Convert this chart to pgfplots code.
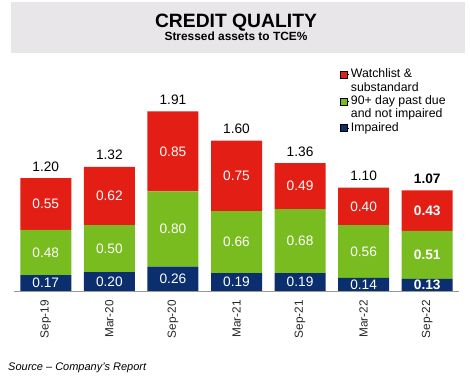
\documentclass[border=0pt]{standalone}
\usepackage{pgfplots}
\pgfplotsset{compat=1.18}
\usepackage{fontspec}
\setmainfont{Liberation Sans}
\definecolor{cred}{HTML}{E31E14}
\definecolor{cgreen}{HTML}{78BC20}
\definecolor{cnavy}{HTML}{0B2F6E}
\definecolor{banner}{HTML}{E8E6E9}
\begin{document}
\begin{tikzpicture}[x=1pt,y=1pt]
\path[use as bounding box] (0,0) rectangle (470,379);
\fill[banner] (11,326) rectangle (465,377);
\node[anchor=base, font=\bfseries\fontsize{19.3}{22}\selectfont, inner sep=0pt] at (236,351) {CREDIT QUALITY};
\node[anchor=base, font=\bfseries\fontsize{11.9}{14}\selectfont, inner sep=0pt] at (236,338) {Stressed assets to TCE\%};
\node[anchor=base west, font=\itshape\fontsize{11}{13}\selectfont, inner sep=0pt] at (8,8) {Source – Company’s Report};

\begin{axis}[at={(14pt,88pt)}, anchor=south west, scale only axis,
  width=445pt, height=225.6pt,
  xmin=-0.5, xmax=6.5, ymin=0, ymax=2.4,
  ybar stacked, bar width=51pt,
  axis x line*=bottom, axis y line=none,
  x axis line style={draw=black!40, line width=0.8pt},
  xtick={0,...,6},
  xticklabels={Sep-19,Mar-20,Sep-20,Mar-21,Sep-21,Mar-22,Sep-22},
  major tick length=0pt,
  xticklabel style={yshift=-9pt, rotate=90, anchor=east, inner sep=0pt,
    font=\fontsize{11.8}{13}\selectfont, text=black!85},
  clip=false]
\addplot[fill=cnavy, draw=none] coordinates {(0,0.17) (1,0.20) (2,0.26) (3,0.19) (4,0.19) (5,0.14) (6,0.13)};
\addplot[fill=cgreen, draw=none] coordinates {(0,0.48) (1,0.50) (2,0.80) (3,0.66) (4,0.68) (5,0.56) (6,0.51)};
\addplot[fill=cred, draw=none] coordinates {(0,0.55) (1,0.62) (2,0.85) (3,0.75) (4,0.49) (5,0.40) (6,0.43)};
\end{axis}

\begin{axis}[at={(14pt,88pt)}, anchor=south west, scale only axis,
  width=445pt, height=225.6pt,
  xmin=-0.5, xmax=6.5, ymin=0, ymax=2.4,
  hide axis, clip=false,
  legend style={at={(0.7326,0.9885)}, anchor=north west, draw=none, fill=none,
    inner sep=0pt, outer sep=0pt, font=\fontsize{12.3}{14}\selectfont,
    nodes={inner sep=0.5pt, text height=9.5pt, text depth=2.8pt},
    column sep=1.5pt, row sep=0pt},
  legend cell align=left,
  legend image code/.code={\path (0pt,0pt) -- (8.5pt,0pt);\fill[#1] (0pt,-3.5pt) rectangle (7pt,3.5pt);}]
\addplot[forget plot, draw=none, mark=none, nodes near coords, point meta=explicit symbolic,
  every node near coord/.append style={anchor=center, text=white, font=\fontsize{13.7}{15}\selectfont}]
  coordinates {(0,0.085)[0.17] (1,0.10)[0.20] (2,0.13)[0.26] (3,0.095)[0.19] (4,0.095)[0.19] (5,0.07)[0.14] (6,0.065)[{\bfseries 0.13}]};
\addplot[forget plot, draw=none, mark=none, nodes near coords, point meta=explicit symbolic,
  every node near coord/.append style={anchor=center, text=white, font=\fontsize{13.7}{15}\selectfont}]
  coordinates {(0,0.41)[0.48] (1,0.45)[0.50] (2,0.66)[0.80] (3,0.52)[0.66] (4,0.53)[0.68] (5,0.42)[0.56] (6,0.385)[{\bfseries 0.51}]};
\addplot[forget plot, draw=none, mark=none, nodes near coords, point meta=explicit symbolic,
  every node near coord/.append style={anchor=center, text=white, font=\fontsize{13.7}{15}\selectfont}]
  coordinates {(0,0.925)[0.55] (1,1.01)[0.62] (2,1.485)[0.85] (3,1.225)[0.75] (4,1.115)[0.49] (5,0.90)[0.40] (6,0.855)[{\bfseries 0.43}]};
\addplot[forget plot, draw=none, mark=none, nodes near coords, point meta=explicit symbolic,
  every node near coord/.append style={anchor=base, inner sep=0pt, yshift=7pt, text=black, font=\fontsize{13.7}{15}\selectfont}]
  coordinates {(0,1.20)[1.20] (1,1.32)[1.32] (2,1.91)[1.91] (3,1.60)[1.60] (4,1.36)[1.36] (5,1.10)[1.10] (6,1.07)[{\bfseries 1.07}]};
\addlegendimage{fill=cred}
\addlegendentry{Watchlist \&}
\addlegendimage{opacity=0}
\addlegendentry{substandard}
\addlegendimage{fill=cgreen}
\addlegendentry{90+ day past due}
\addlegendimage{opacity=0}
\addlegendentry{and not impaired}
\addlegendimage{fill=cnavy}
\addlegendentry{Impaired}
\end{axis}
\end{tikzpicture}
\end{document}
